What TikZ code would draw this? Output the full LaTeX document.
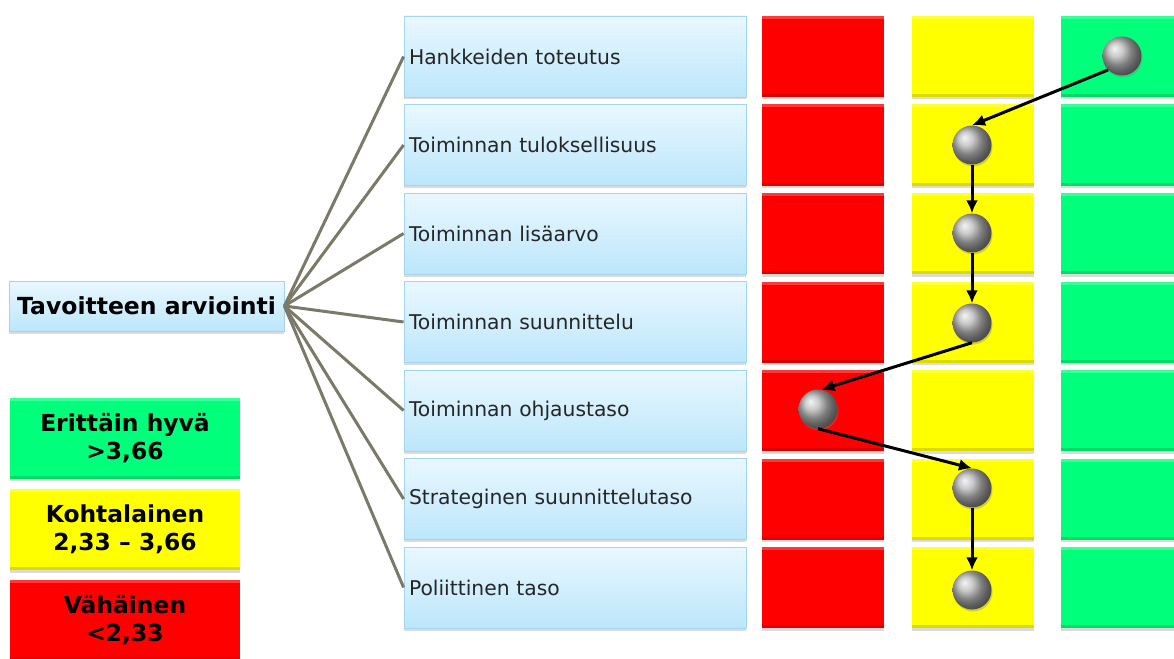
\documentclass[tikz,border=0pt]{standalone}
\usepackage{fontspec}
\setmainfont{DejaVu Sans}
\usetikzlibrary{shadows,arrows.meta}
\definecolor{btop}{HTML}{E9F8FF}
\definecolor{bbot}{HTML}{BCE6FB}
\definecolor{bborder}{HTML}{A3D5F3}
\definecolor{cred}{HTML}{FF0000}
\definecolor{cyel}{HTML}{FFFF00}
\definecolor{cgrn}{HTML}{00FF7A}
\definecolor{linkc}{HTML}{7B7A68}
\begin{document}
\begin{tikzpicture}[x=1pt,y=-1pt,
  shad/.style={drop shadow={shadow xshift=0pt,shadow yshift=-2.5pt,opacity=0.28}},
  bevel/.style={path picture={
    \fill[white,opacity=0.22] (path picture bounding box.north west) rectangle ([yshift=-3pt]path picture bounding box.north east);
    \fill[black,opacity=0.14] ([yshift=3pt]path picture bounding box.south west) rectangle (path picture bounding box.south east);}},
  item/.style={draw=bborder,line width=0.8pt,top color=btop,bottom color=bbot,
    text width=332pt,align=left,inner xsep=5pt,inner ysep=0pt,minimum height=81pt,
    font=\fontsize{20.3}{24}\selectfont,text=black!85,shad},
  cell/.style={minimum width=122pt,minimum height=81pt,inner sep=0pt,shad,bevel},
  redcell/.style={cell,fill=cred},
  yelcell/.style={cell,fill=cyel},
  grncell/.style={cell,fill=cgrn},
  legend/.style={minimum width=230pt,minimum height=81pt,inner sep=0pt,align=center,
    font=\bfseries\fontsize{23.4}{28}\selectfont,shad,bevel},
  root/.style={draw=bborder,line width=0.8pt,top color=btop,bottom color=bbot,
    minimum width=275pt,minimum height=50pt,inner sep=0pt,
    font=\bfseries\fontsize{23.5}{28}\selectfont,shad},
  link/.style={draw=linkc,line width=3pt},
  ball/.style={circle,minimum size=39pt,inner sep=0pt,shading=ball,ball color=black!28,
    drop shadow={shadow xshift=1pt,shadow yshift=-2pt,opacity=0.35}},
  flow/.style={draw=black,line width=3pt,-{Latex[length=13pt,width=12pt]}}
]
\clip (0,0) rectangle (1174,658);
\fill[white] (0,0) rectangle (1174,658);

% rows
\foreach \i/\t in {1/Hankkeiden toteutus,2/Toiminnan tuloksellisuus,3/Toiminnan lisäarvo,
  4/Toiminnan suunnittelu,5/Toiminnan ohjaustaso,6/Strateginen suunnittelutaso,7/Poliittinen taso}{
  \pgfmathsetmacro{\yc}{16+40.5+(\i-1)*88.5}
  \node[item] (it\i) at (575,\yc) {\t};
  \node[redcell] (r\i) at (823,\yc) {};
  \node[yelcell] (y\i) at (973,\yc) {};
  \node[grncell] (g\i) at (1122,\yc) {};
}

% root
\node[root] (root) at (146.5,306) {Tavoitteen arviointi};
\foreach \i in {1,...,7}{
  \draw[link] (root.east) -- (it\i.west);
}

% legend
\node[legend,fill=cgrn] (lg) at (125,438) {Erittäin hyvä\\>3,66};
\node[legend,fill=cyel] (ly) at (125,529.5) {Kohtalainen\\2,33 – 3,66};
\node[legend,fill=cred] (lr) at (125,620.5) {Vähäinen\\<2,33};

% balls
\node[ball] (b1) at (1122,56) {};
\node[ball] (b2) at (972,145) {};
\node[ball] (b3) at (972,233) {};
\node[ball] (b4) at (972,323) {};
\node[ball] (b5) at (818,409) {};
\node[ball] (b6) at (972,488) {};
\node[ball] (b7) at (972,590) {};

\draw[flow] (b1.-135) -- (b2.north);
\draw[flow] (b2.south) -- (b3.north);
\draw[flow] (b3.south) -- (b4.north);
\draw[flow] (b4.south) -- (b5.80);
\draw[flow] (b5.south) -- (b6.north);
\draw[flow] (b6.south) -- (b7.north);
\end{tikzpicture}
\end{document}
